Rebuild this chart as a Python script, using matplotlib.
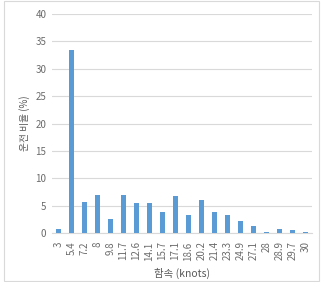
import matplotlib
matplotlib.use("Agg")
import matplotlib.pyplot as plt
from matplotlib.patches import Rectangle

plt.rcParams['font.family'] = ['Noto Sans CJK KR', 'DejaVu Sans']

# 풍속 구간 (knots) 과 운전 비율 (%)
speeds = ["3", "5.4", "7.2", "8", "9.8", "11.7", "12.6", "14.1", "15.7", "17.1",
          "18.6", "20.2", "21.4", "23.3", "24.9", "27.1", "28", "28.9", "29.7", "30"]
ratios = [0.7, 33.4, 5.7, 6.9, 2.6, 6.9, 5.5, 5.5, 3.8, 6.8,
          3.2, 6.0, 3.9, 3.3, 2.1, 1.2, 0.2, 0.7, 0.5, 0.2]
yticks = [0, 5, 10, 15, 20, 25, 30, 35, 40]

fig = plt.figure(figsize=(3.23, 2.82), dpi=100)
ax = fig.add_axes([0.161, 0.174, 0.805, 0.776])

x = range(len(speeds))
ax.bar(x, ratios, width=0.33, color='#5B9BD5', zorder=3)

ax.set_ylim(0, 40)
ax.set_xlim(-0.5, len(speeds) - 0.5)
ax.set_yticks(yticks)
ax.set_xticks(list(x))
ax.set_xticklabels(speeds, rotation=90)
ax.tick_params(axis='both', length=0, labelsize=7, colors='#6b6b6b')
ax.tick_params(axis='y', pad=4)
ax.tick_params(axis='x', pad=6)
ax.grid(axis='y', color='#d9d9d9', linewidth=0.8, zorder=0)
for s in ['top', 'right', 'left']:
    ax.spines[s].set_visible(False)
ax.spines['bottom'].set_color('#d9d9d9')

ax.set_ylabel("운전 비율 (%)", fontsize=7, color='#595959', labelpad=4)
ax.set_xlabel("함속 (knots)", fontsize=7.5, color='#595959', labelpad=5)

# 바깥 테두리
fig.patches.append(Rectangle((0.012, 0.005), 0.975, 0.99, transform=fig.transFigure,
                             fill=False, edgecolor='#d9d9d9', linewidth=0.8))

fig.savefig("out.png", dpi=100)
